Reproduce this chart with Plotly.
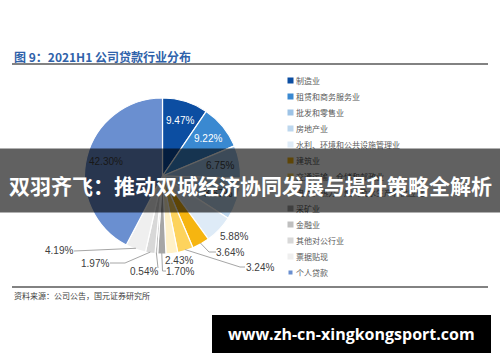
import math
import plotly.graph_objects as go

# ---------------- data ----------------
categories = ["制造业", "租赁和商务服务业", "批发和零售业", "房地产业",
              "水利、环境和公共设施管理业", "建筑业", "交通运输、仓储和邮政业",
              "电力、热力、燃气及水生产和供应业", "采矿业", "金融业",
              "其他对公行业", "票据贴现", "个人贷款"]
values = [9.47, 9.22, 6.75, 8.67, 5.88, 3.64, 3.24, 2.43, 1.70, 0.54, 1.97, 4.19, 42.30]
colors = ["#0c4ea2", "#3a89d1", "#9dc3e6", "#bdd7ee", "#deebf7", "#f6b510",
          "#fdd35d", "#fff1c8", "#a6a6a6", "#bfbfbf", "#d8d8d8", "#efefef", "#6a8fd0"]

title_text = "图 9：2021H1 公司贷款行业分布"
source_text = "资料来源：公司公告，国元证券研究所"
banner_text = "双羽齐飞：推动双城经济协同发展与提升策略全解析"
watermark_text = "www.zh-cn-xingkongsport.com"

# ---------------- layout constants (pixels) ----------------
W, H = 500, 362
CX, CY, R = 162.5, 176, 78
INSIDE = {0: "white", 1: "white", 2: "#404040", 3: "#404040", 12: "#404040"}
# outside label centre positions and leader-line elbows (pixel)
OUTSIDE = {
    4: dict(pos=(233.5, 236), elbow=None),
    5: dict(pos=(230, 252), elbow=[(209, 252), (216, 252)]),
    6: dict(pos=(260, 267), elbow=[(240, 267), (245, 267)]),
    7: dict(pos=(178.5, 260), elbow=None),
    8: dict(pos=(180, 271), elbow=[(162.5, 271), (166, 271)]),
    9: dict(pos=(143.5, 271), elbow=[(158, 268)]),
    10: dict(pos=(95, 263), elbow=[(125, 263), (110, 263)]),
    11: dict(pos=(58.5, 250), elbow=[(74, 251)]),
}


def px(x):
    return x / W


def py(y):
    return 1 - y / H


def rim(theta_deg, r):
    t = math.radians(theta_deg)
    return CX + r * math.sin(t), CY - r * math.cos(t)


fig = go.Figure()
fig.add_trace(go.Pie(
    labels=categories, values=values, sort=False, direction="clockwise",
    rotation=0, marker=dict(colors=colors, line=dict(color="white", width=1.2)),
    textinfo="none", hoverinfo="label+percent", showlegend=False,
    domain=dict(x=[px(CX - R), px(CX + R)], y=[py(CY + R), py(CY - R)]),
))

annotations = []
shapes = []

total = sum(values)
cum = 0.0
for i, v in enumerate(values):
    mid = (cum + v / 2) / total * 360
    cum += v
    label = f"{v:.2f}%"
    if i in INSIDE:
        x, y = rim(mid, 0.75 * R)
        annotations.append(dict(x=px(x), y=py(y), xref="paper", yref="paper",
                                text=label, showarrow=False, xanchor="center", yanchor="middle",
                                font=dict(family="Liberation Sans", size=10, color=INSIDE[i])))
    elif i in OUTSIDE:
        lx, ly = OUTSIDE[i]["pos"]
        annotations.append(dict(x=px(lx), y=py(ly), xref="paper", yref="paper",
                                text=label, showarrow=False, xanchor="center", yanchor="middle",
                                font=dict(family="Liberation Sans", size=10, color="#404040")))
        if OUTSIDE[i]["elbow"]:
            pts = [rim(mid, R - 1)] + OUTSIDE[i]["elbow"]
            path = "M " + " L ".join(f"{px(a)},{py(b)}" for a, b in pts)
            shapes.append(dict(type="path", xref="paper", yref="paper", path=path,
                               line=dict(color="#a6a6a6", width=1)))

# legend (drawn manually)
LEG_X, LEG_Y0, LEG_DY = 287, 80, 16
for i, (c, col) in enumerate(zip(categories, colors)):
    y = LEG_Y0 + i * LEG_DY
    size = 3 if i == len(categories) - 1 else 5
    annotations.append(dict(x=px(LEG_X + (5 - size) / 2), y=py(y), xref="paper", yref="paper",
                            text=" ", showarrow=False, xanchor="left", yanchor="middle",
                            width=size, height=size, borderpad=0, bgcolor=col,
                            font=dict(size=1)))
    annotations.append(dict(x=px(LEG_X + 7), y=py(y), xref="paper", yref="paper",
                            text=c, showarrow=False, xanchor="left", yanchor="middle",
                            font=dict(family="Noto Sans CJK SC", size=8, color="#595959")))

# title / source
annotations.append(dict(x=px(12), y=py(56), xref="paper", yref="paper", text=title_text,
                        showarrow=False, xanchor="left", yanchor="middle",
                        font=dict(family="Noto Sans CJK SC", size=12, color="#2f62aa", weight="bold")))
annotations.append(dict(x=px(12), y=py(295), xref="paper", yref="paper", text=source_text,
                        showarrow=False, xanchor="left", yanchor="middle",
                        font=dict(family="Noto Sans CJK SC", size=8, color="#404040")))
shapes.append(dict(type="line", xref="paper", yref="paper", x0=px(12), x1=px(488),
                   y0=py(64), y1=py(64), line=dict(color="#595959", width=1.5)))
shapes.append(dict(type="line", xref="paper", yref="paper", x0=px(12), x1=px(488),
                   y0=py(287), y1=py(287), line=dict(color="#595959", width=1.5)))

# banner overlay (annotation so it covers other annotations)
annotations.append(dict(x=0.5, y=py(180.5), xref="paper", yref="paper", text=" ",
                        showarrow=False, xanchor="center", yanchor="middle",
                        width=500, height=63, borderpad=0, bgcolor="rgba(0,0,0,0.62)",
                        font=dict(size=1)))
annotations.append(dict(x=0.5, y=py(185), xref="paper", yref="paper", text=banner_text,
                        showarrow=False, xanchor="center", yanchor="middle",
                        font=dict(family="Noto Sans CJK SC", size=21, color="white", weight="bold")))

# watermark
shapes.append(dict(type="rect", xref="paper", yref="paper", x0=px(212), x1=px(491),
                   y0=py(353), y1=py(315), fillcolor="black", line=dict(width=0), layer="above"))
annotations.append(dict(x=px(351.5), y=py(334), xref="paper", yref="paper", text=watermark_text,
                        showarrow=False, xanchor="center", yanchor="middle",
                        font=dict(family="Open Sans", size=16, color="white", weight="bold")))

fig.update_layout(width=W, height=H, margin=dict(l=0, r=0, t=0, b=0),
                  paper_bgcolor="white", plot_bgcolor="white",
                  annotations=annotations, shapes=shapes, showlegend=False)
fig.write_html("out.html")
